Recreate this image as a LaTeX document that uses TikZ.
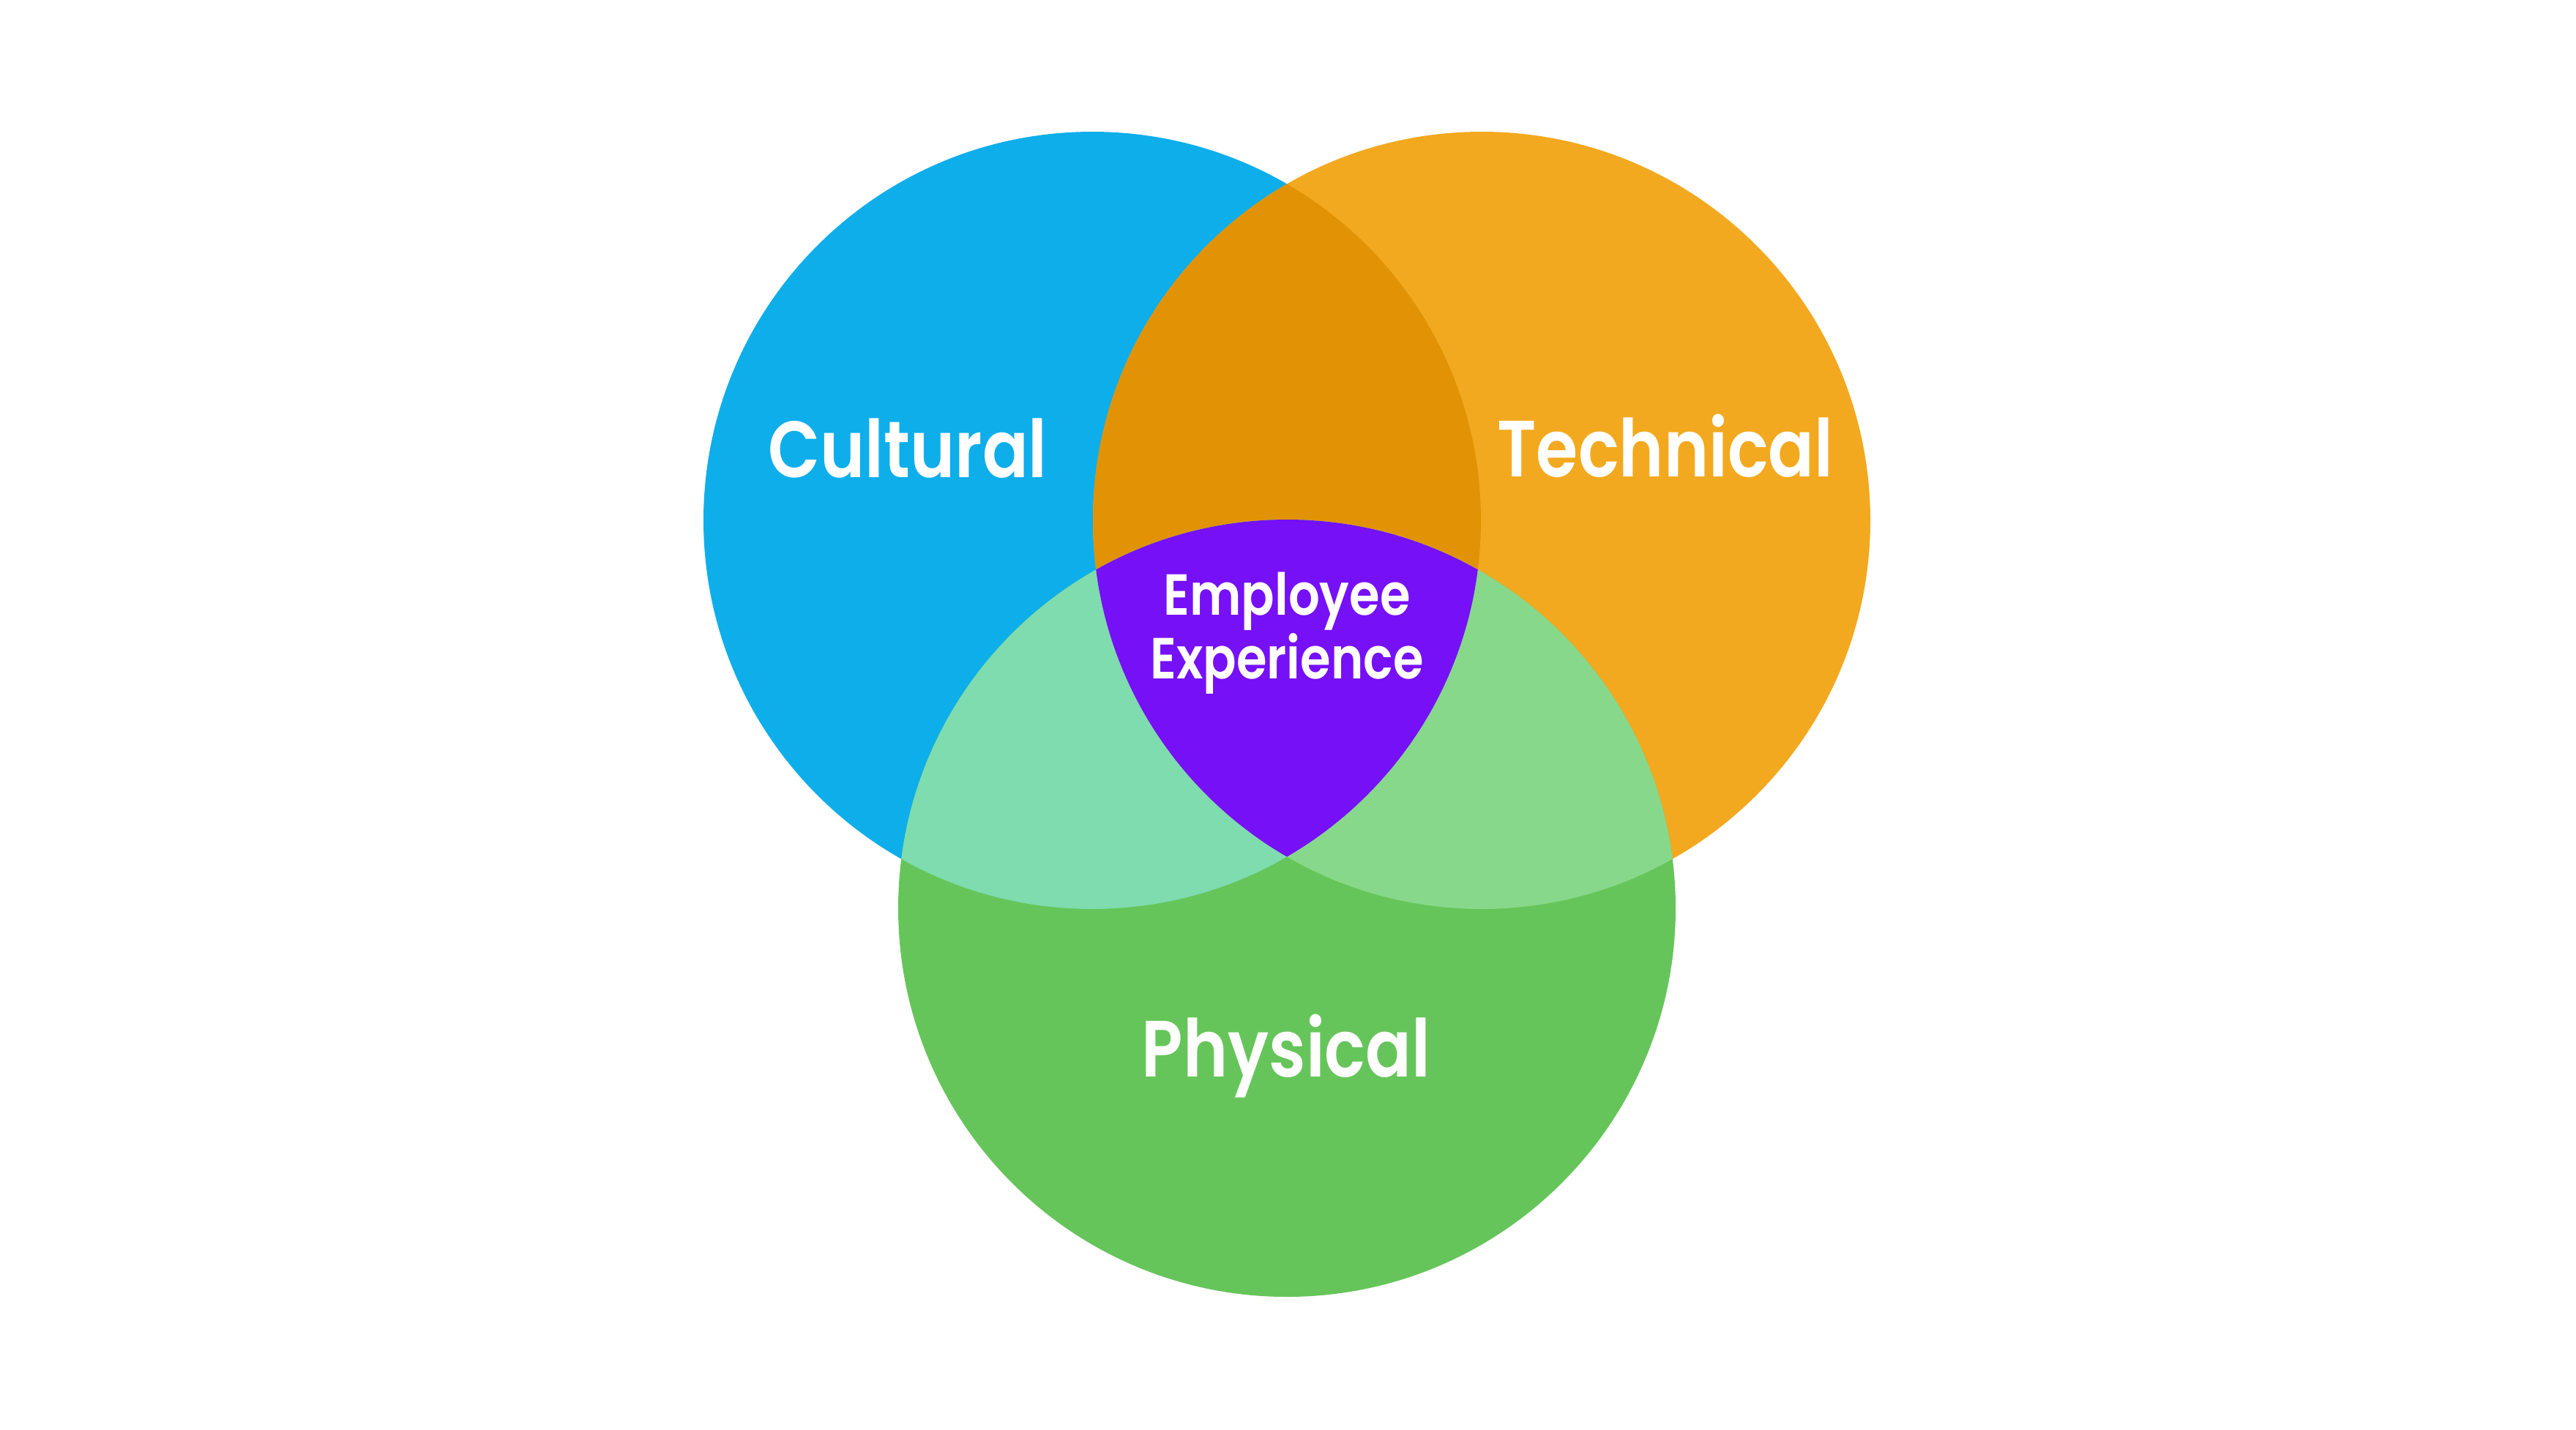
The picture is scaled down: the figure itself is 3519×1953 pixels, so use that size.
\documentclass[tikz,border=0pt]{standalone}
\usepackage{fontspec}
\newfontfamily\lblfont{Poppins SemiBold}[FakeStretch=0.85]
\definecolor{cblue}{HTML}{0EAEEA}
\definecolor{corange}{HTML}{F3A91F}
\definecolor{cgreen}{HTML}{66C55A}
\definecolor{cbo}{HTML}{E29305}
\definecolor{cbg}{HTML}{7EDCAF}
\definecolor{cog}{HTML}{88D88B}
\definecolor{cpurple}{HTML}{7510F7}
\begin{document}
\begin{tikzpicture}[x=0.01cm,y=-0.01cm,
  biglbl/.style={text=white,font=\lblfont\fontsize{31}{37}\selectfont,anchor=base,inner sep=0pt},
  smalllbl/.style={text=white,font=\lblfont\fontsize{22.5}{27}\selectfont,anchor=base,inner sep=0pt}]
\useasboundingbox[fill=white] (0,0) rectangle (3519,1953);
\def\R{531}
\coordinate (cb) at (1492,711);
\coordinate (co) at (2024,711);
\coordinate (cg) at (1758,1241);
\fill[cblue] (cb) circle[radius=\R];
\fill[corange] (co) circle[radius=\R];
\fill[cgreen] (cg) circle[radius=\R];
\begin{scope}
  \clip (cb) circle[radius=\R];
  \fill[cbo] (co) circle[radius=\R];
  \fill[cbg] (cg) circle[radius=\R];
\end{scope}
\begin{scope}
  \clip (co) circle[radius=\R];
  \fill[cog] (cg) circle[radius=\R];
\end{scope}
\begin{scope}
  \clip (cb) circle[radius=\R];
  \clip (co) circle[radius=\R];
  \fill[cpurple] (cg) circle[radius=\R];
\end{scope}
\node[biglbl] (cult) at (1240,652) {Cultural};
\node[biglbl] (tech) at (2275,651) {Technical};
\node[biglbl] (phys) at (1757,1471) {Physical};
\node[smalllbl] (emp) at (1758,840) {Employee};
\node[smalllbl] (exp) at (1758,927) {Experience};
\end{tikzpicture}
\end{document}
